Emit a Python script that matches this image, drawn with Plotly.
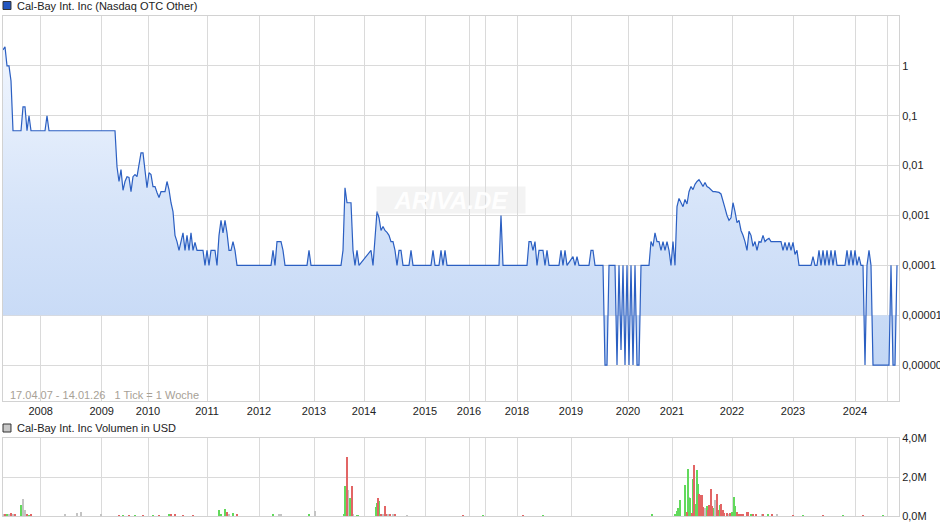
import plotly.graph_objects as go

# ---------------- data ----------------
# x = tick index (1 tick = 1 week, trading weeks only)
price_week = [0, 1, 2, 3, 4, 5, 9, 10, 11, 12, 13, 14, 21, 22, 23, 56, 57, 58, 59, 60,
              61, 62, 63, 64, 65, 66, 67, 68, 69, 70, 71, 72, 73, 74, 75, 76, 77, 78, 79, 80,
              81, 82, 83, 84, 85, 86, 87, 88, 89, 90, 91, 92, 93, 94, 95, 96, 97, 100, 101, 102,
              103, 104, 106, 107, 108, 109, 110, 111, 112, 113, 114, 115, 116, 117, 134, 135, 136, 137, 139, 140,
              141, 152, 153, 154, 169, 170, 171, 172, 174, 175, 176, 177, 178, 184, 185, 186, 187, 188, 189, 190,
              191, 192, 193, 194, 195, 196, 197, 198, 199, 200, 203, 204, 205, 214, 215, 216, 218, 219, 220, 221,
              222, 248, 249, 250, 262, 263, 264, 265, 266, 267, 268, 270, 271, 272, 273, 278, 279, 280, 281, 282,
              285, 286, 287, 288, 293, 294, 295, 296, 300, 301, 302, 303, 306, 307, 308, 309, 310, 311, 312, 313,
              314, 315, 316, 317, 318, 319, 323, 324, 325, 326, 327, 328, 329, 330, 331, 332, 333, 334, 335, 336,
              337, 338, 339, 340, 341, 342, 343, 344, 345, 346, 347, 348, 349, 350, 351, 352, 353, 354, 355, 356,
              357, 358, 359, 360, 361, 362, 363, 364, 365, 366, 367, 368, 369, 370, 371, 372, 373, 374, 375, 376,
              377, 378, 379, 380, 381, 382, 383, 384, 389, 390, 391, 392, 393, 394, 395, 396, 397, 398, 404, 405,
              406, 407, 408, 409, 410, 411, 412, 413, 414, 415, 416, 417, 421, 422, 423, 424, 425, 426, 427, 428,
              429, 430, 431, 432, 433, 434, 435, 443, 444, 445, 446, 447]
price_close = [2.1, 2.4, 1.0, 1.0, 0.5, 0.05, 0.05, 0.15, 0.15, 0.05, 0.1, 0.05, 0.05, 0.1, 0.05, 0.05, 0.0095, 0.0048, 0.0083, 0.0032,
               0.0048, 0.006, 0.0058, 0.003, 0.006, 0.0066, 0.006, 0.0105, 0.018, 0.018, 0.009, 0.0036, 0.0072, 0.0066, 0.0038, 0.0038, 0.0029, 0.0023, 0.003, 0.003,
               0.003, 0.0048, 0.0033, 0.0018, 0.0012, 0.0004, 0.0003, 0.0002, 0.0003, 0.00045, 0.0002, 0.0004, 0.0002, 0.00045, 0.0002, 0.00029, 0.0002, 0.0002, 0.0001, 0.0002,
               0.0001, 0.0002, 0.0002, 0.0001, 0.0004, 0.0008, 0.00045, 0.0008, 0.00045, 0.0002, 0.0002, 0.0003, 0.0002, 0.0001, 0.0001, 0.0002, 0.0001, 0.0003, 0.0003, 0.0002,
               0.0001, 0.0001, 0.0002, 0.0001, 0.0001, 0.0002, 0.0036, 0.0018, 0.0018, 0.0002, 0.0001, 0.0002, 0.0001, 0.0002, 0.0001, 0.00045, 0.0012, 0.0009, 0.0005, 0.0006,
               0.0005, 0.00046, 0.0004, 0.0003, 0.0003, 0.0002, 0.0001, 0.0002, 0.0002, 0.0001, 0.0001, 0.0002, 0.0001, 0.0001, 0.0002, 0.0001, 0.0001, 0.0002, 0.0001, 0.0002,
               0.0001, 0.0001, 0.001, 0.0001, 0.0001, 0.0003, 0.0003, 0.0002, 0.0003, 0.0001, 0.0002, 0.0002, 0.0001, 0.0002, 0.0001, 0.0001, 0.0002, 0.0001, 0.0002, 0.0001,
               0.00015, 0.0001, 0.00015, 0.0001, 0.0001, 0.0002, 0.0002, 0.0001, 0.0001, 0.000001, 0.000001, 0.0001, 0.0001, 0.000001, 0.0001, 0.000002, 0.0001, 0.000001, 0.0001, 0.000001,
               0.0001, 0.000001, 0.0001, 0.000001, 0.000001, 0.0001, 0.0001, 0.0003, 0.00024, 0.00045, 0.0003, 0.0003, 0.0002, 0.0003, 0.0002, 0.0003, 0.0002, 0.0001, 0.0003, 0.0001,
               0.0015, 0.0022, 0.0018, 0.0015, 0.0021, 0.0017, 0.003, 0.0038, 0.0033, 0.0042, 0.0048, 0.0052, 0.0045, 0.0038, 0.0046, 0.0038, 0.0036, 0.0033, 0.003, 0.003,
               0.0029, 0.0029, 0.0027, 0.0018, 0.0014, 0.001, 0.0008, 0.0009, 0.0018, 0.0012, 0.00072, 0.0008, 0.0005, 0.0004, 0.0003, 0.0002, 0.00048, 0.0004, 0.00024, 0.0003,
               0.0002, 0.0003, 0.00029, 0.0004, 0.0003, 0.00033, 0.00035, 0.0003, 0.0003, 0.0002, 0.00029, 0.0002, 0.00029, 0.0002, 0.00029, 0.000166, 0.0002, 0.0001, 0.0001, 0.00015,
               0.0001, 0.0001, 0.0002, 0.0001, 0.0002, 0.0001, 0.0002, 0.0001, 0.0002, 0.0001, 0.0002, 0.0001, 0.0001, 0.0002, 0.0001, 0.0002, 0.0001, 0.0002, 0.0001, 0.00015,
               0.0001, 0.0001, 0.000001, 0.0001, 0.0002, 0.0001, 0.000001, 0.000001, 0.0001, 0.000001, 0.000001, 0.0001]

fill_base = 0.00001  # area fill reference level

# weekly volume in million USD, split by candle direction
vol_up_week = [2, 9, 13, 60, 66, 75, 83, 108, 109, 111, 115, 135, 153, 170.5, 171, 173.5, 177, 177.5, 186.5, 187,
               188, 240, 270, 324.5, 336, 337, 337.5, 338.5, 341, 342.5, 343.5, 345, 346, 347, 347.5, 352, 355, 358.5, 364.5, 365.5,
               366, 374, 382.5, 400, 420, 440]
vol_up = [0.1, 0.56, 0.05, 0.03, 0.04, 0.03, 0.1, 0.3, 0.1, 0.36, 0.15, 0.06, 0.06, 0.08, 1.53, 0.92, 0.05, 0.05, 0.46, 0.69,
          0.76, 0.03, 0.03, 0.1, 0.1, 0.25, 0.4, 0.81, 1.58, 2.39, 0.9, 1.92, 0.6, 2.34, 1.66, 0.53, 0.39, 0.56, 0.22, 0.98,
          0.53, 0.1, 0.06, 0.03, 0.03, 0.03]
vol_down_week = [1, 4, 6, 12, 14, 58, 63, 70, 78, 84, 86, 90, 95, 112, 117, 172, 174.5, 187.5, 189, 191,
                 191.5, 193.5, 196, 230, 260, 342, 344.5, 345.5, 348, 349, 349.5, 350, 352.5, 353, 354, 354.5, 357, 357.5, 359, 360,
                 360.5, 362, 363.5, 367, 367.5, 368.5, 369.5, 370, 372, 372.5, 375, 376.5, 380, 384.5, 395, 410, 430]
vol_down = [0.12, 0.17, 0.1, 0.08, 0.08, 0.04, 0.03, 0.04, 0.03, 0.1, 0.1, 0.03, 0.03, 0.19, 0.06, 3.05, 1.53, 0.92, 0.08, 0.52,
            0.08, 0.06, 0.06, 0.03, 0.03, 0.22, 0.14, 2.6, 1.15, 1.07, 1.1, 0.47, 0.3, 0.56, 1.37, 0.53, 1.12, 0.3, 0.64, 0.3,
            0.17, 0.14, 0.17, 0.19, 0.1, 0.06, 0.08, 0.1, 0.19, 0.19, 0.06, 0.08, 0.06, 0.06, 0.03, 0.03, 0.03]
vol_flat_week = [0, 3, 5, 10, 11, 31, 37, 39, 49, 113, 138, 139, 156, 172.5, 173, 175, 190, 192.5, 195, 202,
                 343, 351, 356, 356.5, 362.5, 379.5, 387]
vol_flat = [0.1, 0.08, 0.08, 0.86, 0.3, 0.1, 0.17, 0.22, 0.06, 0.1, 0.1, 0.08, 0.25, 1.32, 0.56, 0.08, 0.12, 0.08, 0.1, 0.05,
            0.98, 0.39, 0.81, 0.7, 0.08, 0.08, 0.1]

# axis ticks
year_tick_week = [18.85, 49.35, 72.5, 102, 128, 155.5, 180.5, 211, 233, 241, 257, 284, 312.5, 334.5, 364.5, 395, 426, 442]
year_labels = ["2008", "2009", "2010", "2011", "2012", "2013", "2014", "2015", "2016", "", "2018", "2019",
               "2020", "2021", "2022", "2023", "2024", ""]
price_ticks = [1, 0.1, 0.01, 0.001, 0.0001, 0.00001, 0.000001]
price_tick_labels = ["1", "0,1", "0,01", "0,001", "0,0001", "0,00001", "0,000001"]
vol_ticks = [0, 2, 4]
vol_tick_labels = ["0,0M", "2,0M", "4,0M"]

title_main = "Cal-Bay Int. Inc (Nasdaq OTC Other)"
title_vol = "Cal-Bay Int. Inc Volumen in USD"
period_text = "17.04.07 - 14.01.26   1 Tick = 1 Woche"

# ---------------- figure ----------------
GRID = "#dadada"
FONT = "Liberation Sans, Arial, sans-serif"

fig = go.Figure()

fig.add_trace(go.Scatter(
    x=[price_week[0], price_week[-1]], y=[fill_base, fill_base],
    mode="lines", line=dict(width=0, color="rgba(0,0,0,0)"),
    hoverinfo="skip", showlegend=False, xaxis="x", yaxis="y"))

fig.add_trace(go.Scatter(
    x=price_week, y=price_close, mode="lines",
    line=dict(color="#2b5fc2", width=1.2),
    fill="tonexty",
    fillcolor="rgba(205,222,248,0.8)",
    fillgradient=dict(type="vertical",
                      colorscale=[[0, "#c3d7f5"], [0.5, "#d6e4f9"], [1, "#f1f6fe"]]),
    showlegend=False, xaxis="x", yaxis="y"))

for wk, vals, col in [(vol_flat_week, vol_flat, "#c4c4c4"),
                      (vol_up_week, vol_up, "#62d95c"),
                      (vol_down_week, vol_down, "#e26565")]:
    fig.add_trace(go.Bar(x=wk, y=vals, width=0.65, marker=dict(color=col, line=dict(width=0)),
                         showlegend=False, xaxis="x2", yaxis="y2"))

axis_common = dict(showgrid=True, gridcolor=GRID, gridwidth=1, zeroline=False, automargin=False,
                   showline=True, linecolor="#d2d2d2", linewidth=1, mirror=True, ticks="")

fig.update_layout(
    width=940, height=526,
    margin=dict(l=3, r=41, t=16, b=10, autoexpand=False),
    paper_bgcolor="white", plot_bgcolor="white",
    font=dict(family=FONT, size=11, color="#222222"),
    showlegend=False, barmode="overlay", bargap=0,
    xaxis=dict(domain=[0, 1], anchor="y", range=[0, 448], tickmode="array",
               tickvals=year_tick_week, ticktext=year_labels,
               tickfont=dict(size=11, color="#222222"), **axis_common),
    yaxis=dict(domain=[0.23, 1], anchor="x", type="log", range=[-6.72, 1.0], side="right",
               tickmode="array", tickvals=price_ticks, ticktext=price_tick_labels,
               tickfont=dict(size=11, color="#222222"), **axis_common),
    xaxis2=dict(domain=[0, 1], anchor="y2", range=[0, 448], matches="x", tickmode="array",
                tickvals=year_tick_week, showticklabels=False, **axis_common),
    yaxis2=dict(domain=[0, 0.156], anchor="x2", range=[0, 4], side="right",
                tickmode="array", tickvals=vol_ticks, ticktext=vol_tick_labels,
                tickfont=dict(size=11, color="#222222"), **axis_common),
)

# legends / captions
fig.add_shape(type="rect", xref="paper", yref="paper", x0=0.0, x1=0.0089, y0=1.013, y1=1.029,
              fillcolor="#2256c0", line=dict(color="#333333", width=1))
fig.add_annotation(xref="paper", yref="paper", x=0.0134, y=1.021, xanchor="left", yanchor="middle",
                   text=title_main, showarrow=False, font=dict(family=FONT, size=11, color="#222222"))
fig.add_shape(type="rect", xref="paper", yref="paper", x0=0.0, x1=0.0089, y0=0.168, y1=0.184,
              fillcolor="#c8c8c8", line=dict(color="#333333", width=1))
fig.add_annotation(xref="paper", yref="paper", x=0.0134, y=0.176, xanchor="left", yanchor="middle",
                   text=title_vol, showarrow=False, font=dict(family=FONT, size=11, color="#222222"))
fig.add_annotation(xref="paper", yref="paper", x=0.0056, y=0.242, xanchor="left", yanchor="middle",
                   text=period_text, showarrow=False, font=dict(family=FONT, size=11, color="#a7a196"))
# watermark
fig.add_annotation(xref="paper", yref="paper", x=0.5, y=0.632, xanchor="center", yanchor="middle",
                   text="<b><i>ARIVA.DE</i></b>", showarrow=False, width=146, height=24,
                   bgcolor="rgba(220,220,220,0.35)",
                   font=dict(family=FONT, size=24, color="rgba(255,255,255,0.95)"))

fig.write_html("out.html", config={"displayModeBar": False},
               post_script="document.body.style.margin='0px';document.body.style.overflow='hidden';")
